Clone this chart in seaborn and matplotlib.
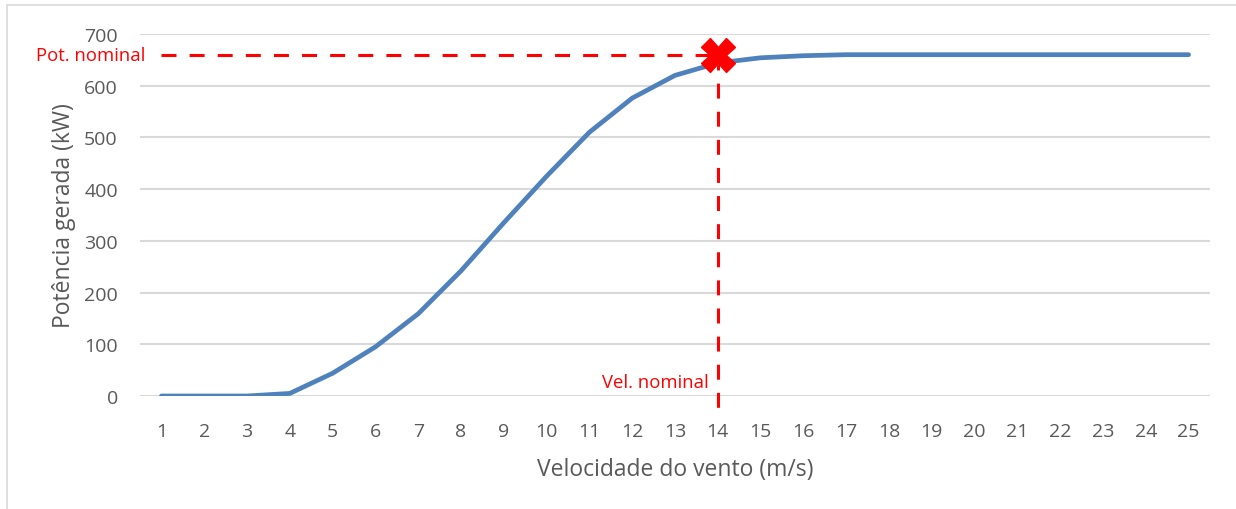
import pandas as pd
import matplotlib.pyplot as plt
import seaborn as sns
from matplotlib.patches import Rectangle

# --- data ---
wind_speed = list(range(1, 26))
power_kw = [0, 0, 0, 5, 44, 95, 159, 242, 335, 425, 510, 576, 620, 644, 654,
            658, 660, 660, 660, 660, 660, 660, 660, 660, 660]
nominal_speed = 14
nominal_power = 660
y_ticks = [0, 100, 200, 300, 400, 500, 600, 700]

df = pd.DataFrame({'speed': wind_speed, 'power': power_kw})

sns.set_style("white")
plt.rcParams['font.family'] = ['Open Sans', 'DejaVu Sans']

gray_txt = '#595959'
grid_col = '#d9d9d9'
red = '#ff0000'

fig = plt.figure(figsize=(12.36, 5.1), dpi=100)
ax = fig.add_axes([140 / 1236, 1 - 397 / 510, 1070 / 1236, 362 / 510])

# nominal reference lines
ax.plot([wind_speed[0], nominal_speed], [nominal_power, nominal_power],
        color=red, lw=2.2, linestyle=(0, (4.9, 4.3)), zorder=2)
ax.plot([nominal_speed, nominal_speed], [nominal_power, -40],
        color=red, lw=2.2, linestyle=(0, (4.9, 4.3)), zorder=2, clip_on=False)

sns.lineplot(data=df, x='speed', y='power', ax=ax, color='#4f81bd', lw=3.4,
             solid_capstyle='round', zorder=3)

ax.plot([nominal_speed], [nominal_power], marker='X', ms=24, color=red,
        mec=red, zorder=4, clip_on=False)

ax.set_xlim(0.5, 25.5)
ax.set_ylim(0, 700)
ax.set_xticks(wind_speed)
ax.set_yticks(y_ticks)
ax.tick_params(axis='both', length=0, labelsize=14, labelcolor=gray_txt)
ax.tick_params(axis='x', pad=19)
ax.tick_params(axis='y', pad=16)
ax.grid(axis='y', color=grid_col, lw=1.5)
ax.set_axisbelow(True)
for s in ax.spines.values():
    s.set_visible(False)

ax.set_xlabel('Velocidade do vento (m/s)', fontsize=16.5, color=gray_txt, labelpad=12)
ax.set_ylabel('Potência gerada (kW)', fontsize=16.5, color=gray_txt, labelpad=6)

ax.text(0.62, nominal_power, 'Pot. nominal', color=red, fontsize=13.3,
        ha='right', va='center', clip_on=False)
ax.text(nominal_speed - 0.2, 27, 'Vel. nominal', color=red, fontsize=13.3,
        ha='right', va='center')

# light chart border like the spreadsheet frame
fig.patches.append(Rectangle((7 / 1236, -0.5), 1.2, 1.5 - 6 / 510,
                             transform=fig.transFigure, fill=False,
                             edgecolor=grid_col, lw=1.2))

plt.savefig('out.png', dpi=100)
